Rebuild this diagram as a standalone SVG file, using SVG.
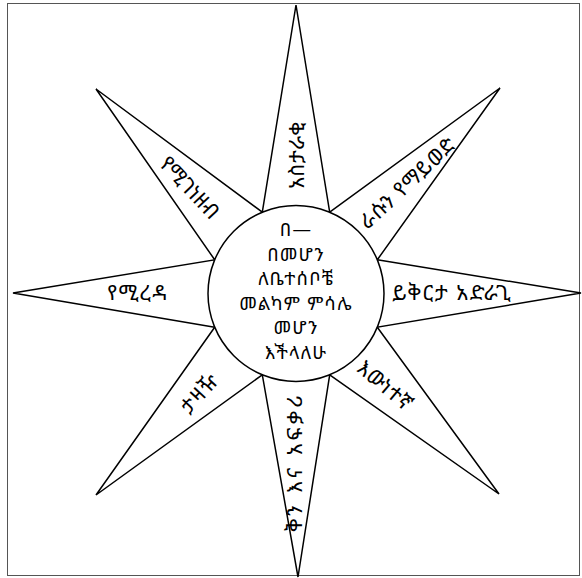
<svg xmlns="http://www.w3.org/2000/svg" width="582" height="578" viewBox="0 0 582 578">
<style>
.ray{fill:#fff;stroke:#000;stroke-width:1.5;stroke-linejoin:miter}
.hub{fill:#fff;stroke:#000;stroke-width:1.5}
.t{font-family:"Noto Sans Ethiopic","Noto Serif Ethiopic","Abyssinica SIL","FreeSerif","DejaVu Sans",sans-serif;font-size:21px;fill:#000;text-anchor:middle}
.c{font-size:18.5px;letter-spacing:1.2px}
.frame{fill:#fff;stroke:#555;stroke-width:1}
</style>
<rect class="frame" x="7.5" y="3.5" width="572" height="572"/>
<g id="connectors"/>
<g id="ray-top">
<polygon class="ray" points="262.3,212.2 296,5 329.7,212.2"/>
<g transform="translate(297,155) rotate(-90)"><text class="t" x="0" y="7" letter-spacing="0.5">አስታራቂ</text></g>
</g>
<g id="ray-top-right">
<polygon class="ray" points="329.7,212.2 500,88 377.3,259.8"/>
<g transform="translate(408,183) rotate(-43)"><text class="t" x="0" y="7" letter-spacing="1">ራሱን የማይወድ</text></g>
</g>
<g id="ray-right">
<polygon class="ray" points="377.3,259.8 581,293 377.3,327.2"/>
<text class="t" x="452" y="300" letter-spacing="1.5">ይቅርታ አድራጊ</text>
</g>
<g id="ray-bottom-right">
<polygon class="ray" points="377.3,327.2 499,494 329.7,374.8"/>
<g transform="translate(385,386) rotate(40)"><text class="t" x="0" y="7" letter-spacing="1">እውነተኛ</text></g>
</g>
<g id="ray-bottom">
<polygon class="ray" points="329.7,374.8 298,577 262.3,374.8"/>
<g transform="translate(295,462) rotate(-90)"><text class="t" x="0" y="7" letter-spacing="3.5">ቅን እና አፍቃሪ</text></g>
</g>
<g id="ray-bottom-left">
<polygon class="ray" points="262.3,374.8 96,495 214.7,327.2"/>
<g transform="translate(200,393) rotate(-47)"><text class="t" x="0" y="7" letter-spacing="1.5">ታዛዥ</text></g>
</g>
<g id="ray-left">
<polygon class="ray" points="214.7,327.2 13,293 214.7,259.8"/>
<text class="t" x="138" y="300" letter-spacing="1.5">የሚረዳ</text>
</g>
<g id="ray-top-left">
<polygon class="ray" points="214.7,259.8 96,89 262.3,212.2"/>
<g transform="translate(189.5,188) rotate(47)"><text class="t" x="0" y="7">የሚገነዘብ</text></g>
</g>
<g id="hub">
<circle class="hub" cx="296" cy="293.5" r="88"/>
<text class="t c" x="296" y="236">በ—</text>
<text class="t c" x="296" y="260.5">በመሆን</text>
<text class="t c" x="296" y="285">ለቤተሰቦቼ</text>
<text class="t c" x="296" y="309.5">መልካም ምሳሌ</text>
<text class="t c" x="296" y="334">መሆን</text>
<text class="t c" x="296" y="358.5">እችላለሁ</text>
</g>
</svg>
